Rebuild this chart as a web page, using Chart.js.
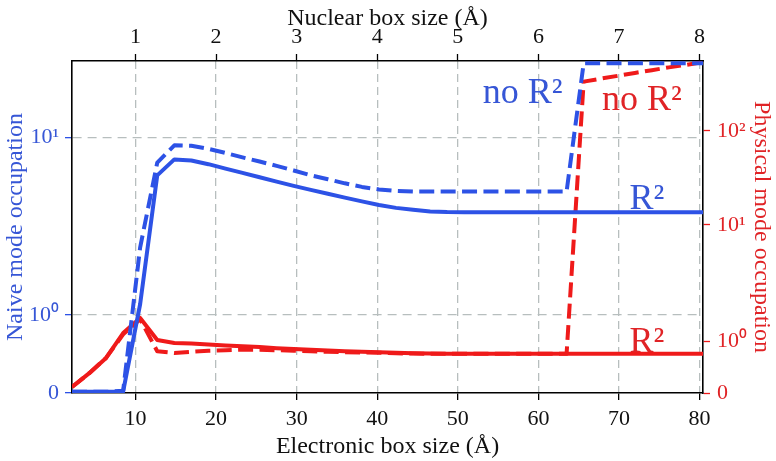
<!DOCTYPE html>
<html lang="en">
<head>
    <meta charset="UTF-8">
    <title>Mode occupation</title>
    <script src="https://cdn.jsdelivr.net/npm/chart.js"></script>
    <style>
        body { margin: 0; background: #fff; }
    </style>
</head>
<body>
    <canvas id="grafico" width="776" height="461"></canvas>

    <script>
        // electronic box size (Å), 4 bohr steps
        const boxSize = [2.12, 4.23, 6.35, 8.47, 10.58, 12.70, 14.82, 16.93, 19.05, 21.17,
                         23.28, 25.40, 27.52, 29.63, 31.75, 33.87, 35.98, 38.10, 40.22, 42.33,
                         44.45, 46.57, 48.68, 50.80, 52.92, 55.03, 57.15, 59.27, 61.38, 63.50,
                         65.62, 67.73, 69.85, 71.97, 74.08, 76.20, 78.32, 80.43]

        // naive occupation (left axis)
        const naiveR2 = [0.015, 0.015, 0.015, 0.02, 1.15, 6.1, 7.5, 7.4, 7.05, 6.65,
                         6.3, 5.95, 5.62, 5.32, 5.05, 4.8, 4.57, 4.35, 4.15, 4.0,
                         3.9, 3.82, 3.79, 3.78, 3.78, 3.78, 3.78, 3.78, 3.78, 3.78,
                         3.78, 3.78, 3.78, 3.78, 3.78, 3.78, 3.78, 3.78]
        const naiveNoR2 = [0.015, 0.015, 0.015, 0.03, 2.4, 7.2, 9.0, 8.95, 8.6, 8.15,
                           7.7, 7.3, 6.9, 6.5, 6.1, 5.8, 5.5, 5.25, 5.08, 4.98,
                           4.94, 4.94, 4.94, 4.94, 4.94, 4.94, 4.94, 4.94, 4.94, 4.94,
                           26.1, 26.1, 26.1, 26.1, 26.1, 26.1, 26.1, 26.1]

        // physical occupation (right axis)
        const physR2 = [0.116, 0.38, 0.68, 1.18, 1.59, 1.03, 0.97, 0.96, 0.94, 0.92,
                        0.905, 0.89, 0.87, 0.855, 0.84, 0.825, 0.81, 0.80, 0.79, 0.78,
                        0.77, 0.765, 0.76, 0.76, 0.76, 0.76, 0.76, 0.76, 0.76, 0.76,
                        0.76, 0.76, 0.76, 0.76, 0.76, 0.76, 0.76, 0.76]
        const physNoR2 = [0.116, 0.38, 0.68, 1.15, 1.55, 0.81, 0.775, 0.80, 0.82, 0.83,
                          0.84, 0.84, 0.83, 0.82, 0.81, 0.80, 0.79, 0.785, 0.78, 0.77,
                          0.765, 0.76, 0.76, 0.76, 0.76, 0.76, 0.76, 0.76, 0.76, 0.76,
                          335, 360, 386, 414, 443, 475, 505, 540]

        const xTicks = [10, 20, 30, 40, 50, 60, 70, 80]
        const nuclearTicks = [1, 2, 3, 4, 5, 6, 7, 8]
        const naiveTicks = [0, 1, 10]
        const physTicks = [0, 1, 10, 100]
        const tickText = {0: '0', 1: '10⁰', 10: '10¹', 100: '10²'}

        // text placed on the curves: [text, x, y, axis]
        const curveLabels = [
            ['no R²', 53.1, 15.6, 'y'],
            ['R²', 71.3, 3.95, 'y'],
            ['no R²', 67.9, 167, 'y2'],
            ['R²', 71.3, 0.80, 'y2']
        ]

        const azul = '#2d52e6'
        const azulTxt = '#3656d6'
        const verm = '#ef1a1a'
        const vermTxt = '#e02326'
        const cinza = '#b7bebe'

        // symlog-like axes: [value, fraction of height]
        const escalas = {
            y: [[0, 0], [1, 0.2356], [10, 0.7704], [26.9, 1]],
            y2: [[0, 0], [1, 0.1553], [10, 0.5065], [100, 0.7893], [555, 1]]
        }

        class KnotScale extends Chart.LinearScale {
            static id = 'knot'
            static defaults = {}
            frac(v) {
                const k = escalas[this.id]
                if (v <= k[0][0]) return k[0][1]
                for (let i = 1; i < k.length; i++) {
                    const [v0, f0] = k[i - 1]
                    const [v1, f1] = k[i]
                    if (v <= v1 || i === k.length - 1) {
                        const t = v0 <= 0 ? (v - v0) / (v1 - v0) : Math.log(v / v0) / Math.log(v1 / v0)
                        return f0 + t * (f1 - f0)
                    }
                }
            }
            getPixelForValue(v) {
                return this.getPixelForDecimal(this.frac(v))
            }
            getValueForPixel(p) {
                const f = this.getDecimalForPixel(p)
                const k = escalas[this.id]
                for (let i = 1; i < k.length; i++) {
                    const [v0, f0] = k[i - 1]
                    const [v1, f1] = k[i]
                    if (f <= f1 || i === k.length - 1) {
                        const t = (f - f0) / (f1 - f0)
                        return v0 <= 0 ? v0 + t * (v1 - v0) : v0 * Math.pow(v1 / v0, t)
                    }
                }
            }
            buildTicks() {
                const vals = this.id === 'y' ? naiveTicks : physTicks
                return vals.map(value => ({value}))
            }
        }
        Chart.register(KnotScale)

        const rotulos = {
            id: 'rotulos',
            afterDatasetsDraw(chart) {
                const {ctx, scales} = chart
                ctx.save()
                ctx.font = "36px 'Liberation Serif', serif"
                ctx.textBaseline = 'alphabetic'
                curveLabels.forEach(([txt, x, y, ax]) => {
                    ctx.fillStyle = ax === 'y' ? azulTxt : vermTxt
                    ctx.fillText(txt, scales.x.getPixelForValue(x), scales[ax].getPixelForValue(y))
                })
                ctx.restore()
            }
        }

        const pts = arr => arr.map((v, i) => ({x: boxSize[i], y: v}))
        const fonteTick = {family: "'Liberation Serif', serif", size: 22}
        const fonteTit = {family: "'Liberation Serif', serif", size: 24}

        const ctx = document.getElementById('grafico')
        Chart.defaults.font.family = "'Liberation Serif', serif"

        new Chart(ctx, {
            type: 'line',
            data: {
                datasets: [
                    {data: pts(naiveNoR2), yAxisID: 'y', borderColor: azul, borderDash: [15, 6.4]},
                    {data: pts(naiveR2), yAxisID: 'y', borderColor: azul},
                    {data: pts(physNoR2), yAxisID: 'y2', borderColor: verm, borderDash: [15, 6.4]},
                    {data: pts(physR2), yAxisID: 'y2', borderColor: verm}
                ]
            },
            options: {
                responsive: false,
                animation: false,
                events: [],
                layout: {padding: 0},
                elements: {
                    line: {borderWidth: 4, tension: 0, fill: false, borderCapStyle: 'butt', borderJoinStyle: 'round'},
                    point: {radius: 0}
                },
                plugins: {legend: {display: false}, tooltip: {enabled: false}},
                scales: {
                    x: {
                        type: 'linear', position: 'bottom', min: 2.12, max: 80.43,
                        afterBuildTicks: s => { s.ticks = xTicks.map(value => ({value})) },
                        afterFit: s => { s.height = 68 },
                        grid: {color: cinza, lineWidth: 1.3, tickColor: '#000', tickLength: 7, tickWidth: 1.3},
                        border: {color: '#000', width: 1.6, dash: [8, 5]},
                        ticks: {color: '#111', font: fonteTick, padding: 6, maxRotation: 0, callback: v => String(v)},
                        title: {display: true, text: 'Electronic box size (Å)', color: '#111', font: fonteTit, padding: {top: 0, bottom: 0}}
                    },
                    x2: {
                        type: 'linear', position: 'top', min: 0.212, max: 8.043,
                        afterBuildTicks: s => { s.ticks = nuclearTicks.map(value => ({value})) },
                        afterFit: s => { s.height = 61 },
                        grid: {drawOnChartArea: false, tickColor: '#000', tickLength: 7, tickWidth: 1.3},
                        border: {color: '#000', width: 1.6},
                        ticks: {color: '#111', font: fonteTick, padding: 4, maxRotation: 0, callback: v => String(v)},
                        title: {display: true, text: 'Nuclear box size (Å)', color: '#111', font: fonteTit, padding: {top: 4, bottom: 0}}
                    },
                    y: {
                        type: 'knot', position: 'left', min: 0, max: 26.9,
                        afterFit: s => { s.width = 72 },
                        grid: {
                            color: c => (c.tick && c.tick.value === 0) ? 'rgba(0,0,0,0)' : cinza,
                            lineWidth: 1.3, tickColor: azul, tickLength: 7, tickWidth: 1.3
                        },
                        border: {color: '#000', width: 1.6, dash: [9, 6]},
                        ticks: {color: azulTxt, font: fonteTick, padding: 6, callback: v => tickText[v]},
                        title: {display: true, text: 'Naive mode occupation', color: azulTxt, font: fonteTit, padding: {top: 1, bottom: 0}}
                    },
                    y2: {
                        type: 'knot', position: 'right', min: 0, max: 555,
                        afterFit: s => { s.width = 73 },
                        grid: {drawOnChartArea: false, tickColor: verm, tickLength: 7, tickWidth: 1.3},
                        border: {color: '#000', width: 1.6},
                        ticks: {color: vermTxt, font: fonteTick, padding: 7, callback: v => tickText[v]},
                        title: {display: true, text: 'Physical mode occupation', color: vermTxt, font: fonteTit, padding: {top: 0, bottom: 0}}
                    }
                }
            },
            plugins: [rotulos]
        })
    </script>
</body>
</html>
